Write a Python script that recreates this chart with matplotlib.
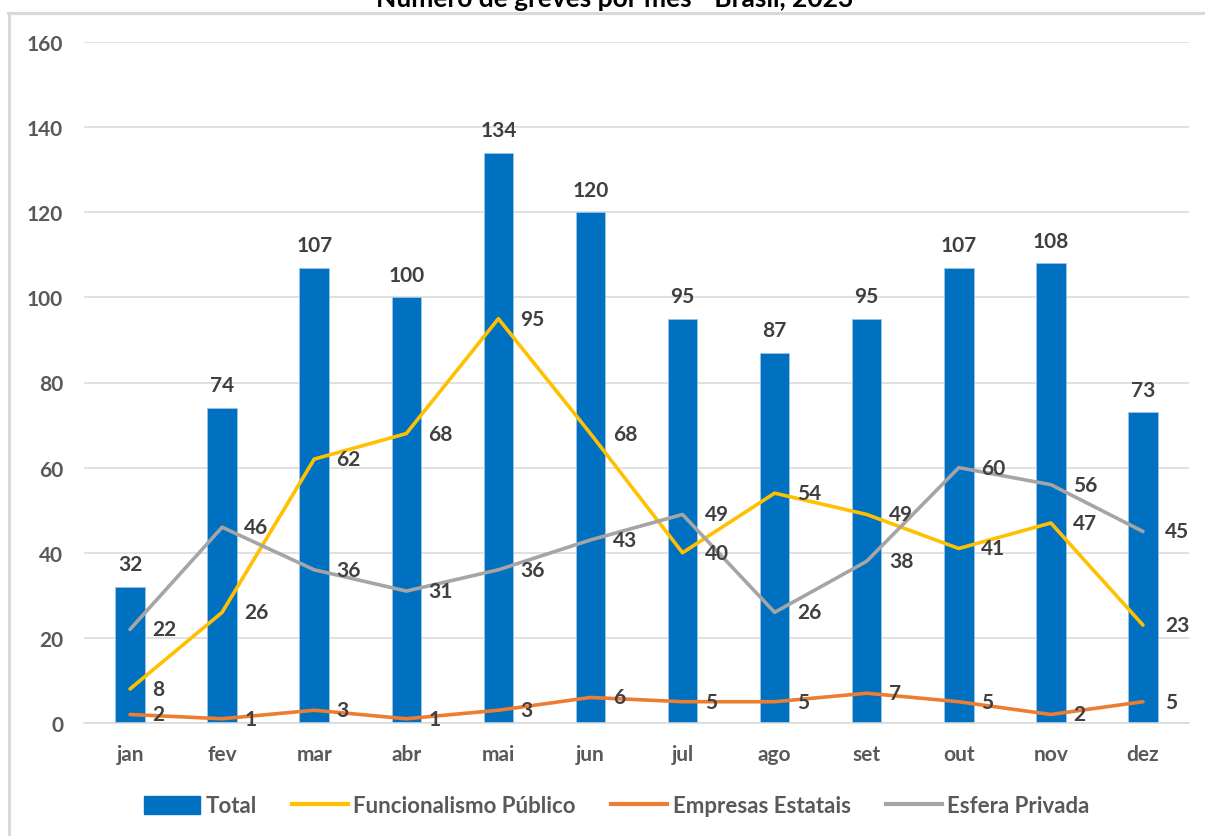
import matplotlib
matplotlib.use("Agg")
import matplotlib.pyplot as plt
from matplotlib.lines import Line2D
from matplotlib.patches import Patch

months = ["jan", "fev", "mar", "abr", "mai", "jun", "jul", "ago", "set", "out", "nov", "dez"]
total = [32, 74, 107, 100, 134, 120, 95, 87, 95, 107, 108, 73]
funcionalismo = [8, 26, 62, 68, 95, 68, 40, 54, 49, 41, 47, 23]
empresas = [2, 1, 3, 1, 3, 6, 5, 5, 7, 5, 2, 5]
esfera = [22, 46, 36, 31, 36, 43, 49, 26, 38, 60, 56, 45]
yticks = [0, 20, 40, 60, 80, 100, 120, 140, 160]
title = "Número de greves por mês - Brasil, 2023"

FONT = ["Lato", "DejaVu Sans"]
plt.rcParams["font.family"] = FONT

W, H = 1205, 837
fig = plt.figure(figsize=(W / 100, H / 100), dpi=100)
ax = fig.add_axes([84 / W, 1 - 724 / H, (1189 - 84) / W, (724 - 43) / H])

x = list(range(len(months)))
C_BAR = "#0070C0"
C_YEL = "#FFC000"
C_ORA = "#ED7D31"
C_GRY = "#A5A5A5"
C_GRID = "#D9D9D9"
C_TICK = "#595959"
C_LAB = "#404040"

ax.bar(x, total, width=0.32, color=C_BAR, edgecolor="#9DC3E6", linewidth=0.6, zorder=2)
ax.plot(x, funcionalismo, color=C_YEL, lw=2.6, zorder=3, solid_capstyle="round")
ax.plot(x, empresas, color=C_ORA, lw=2.6, zorder=3, solid_capstyle="round")
ax.plot(x, esfera, color=C_GRY, lw=2.6, zorder=3, solid_capstyle="round")

ax.set_xlim(-0.5, len(months) - 0.5)
ax.set_ylim(0, 160)
ax.set_yticks(yticks)
ax.set_xticks(x)
ax.set_xticklabels(months)
ax.grid(axis="y", color=C_GRID, lw=1.1, zorder=0)
ax.set_axisbelow(True)
for s in ["top", "right", "left"]:
    ax.spines[s].set_visible(False)
ax.spines["bottom"].set_color(C_GRID)
ax.spines["bottom"].set_linewidth(1.1)
ax.tick_params(axis="both", length=0, labelcolor=C_TICK, labelsize=15)
ax.tick_params(axis="y", pad=15)
ax.tick_params(axis="x", pad=15)
for lab in ax.get_xticklabels() + ax.get_yticklabels():
    lab.set_fontweight("bold")

# bar labels
for xi, v in zip(x, total):
    ax.annotate(str(v), (xi, v), xytext=(0, 12), textcoords="offset points",
                ha="center", va="baseline", fontsize=15, fontweight="bold", color=C_LAB, zorder=5)

# line labels
for series in (funcionalismo, empresas, esfera):
    for xi, v in zip(x, series):
        ax.annotate(str(v), (xi, v), xytext=(16, 0), textcoords="offset points",
                    ha="left", va="center", fontsize=15, fontweight="bold", color=C_LAB, zorder=5)

# title (partially clipped at top like reference)
fig.text(615 / W, 1 - 7 / H, title, ha="center", va="baseline", fontsize=19,
         fontweight="bold", color="black")

# frame
fig.add_artist(Line2D([8 / W, 1], [1 - 14 / H, 1 - 14 / H], transform=fig.transFigure,
                      color=C_GRID, lw=2.2))
fig.add_artist(Line2D([9 / W, 9 / W], [1 - 14 / H, 0], transform=fig.transFigure,
                      color=C_GRID, lw=2.2))

handles = [
    Patch(facecolor=C_BAR, edgecolor=C_BAR),
    Line2D([], [], color=C_YEL, lw=3),
    Line2D([], [], color=C_ORA, lw=3),
    Line2D([], [], color=C_GRY, lw=3),
]
labels = ["Total", "Funcionalismo Público", "Empresas Estatais", "Esfera Privada"]
leg = fig.legend(handles, labels, loc="center", bbox_to_anchor=(617 / W, 1 - 807 / H),
                 ncol=4, frameon=False, handlelength=2.5, handleheight=0.9, handletextpad=0.25,
                 columnspacing=1.6, prop={"family": FONT, "weight": "bold", "size": 16})
for t in leg.get_texts():
    t.set_color(C_TICK)

fig.savefig("out.png", dpi=100, facecolor="white")
